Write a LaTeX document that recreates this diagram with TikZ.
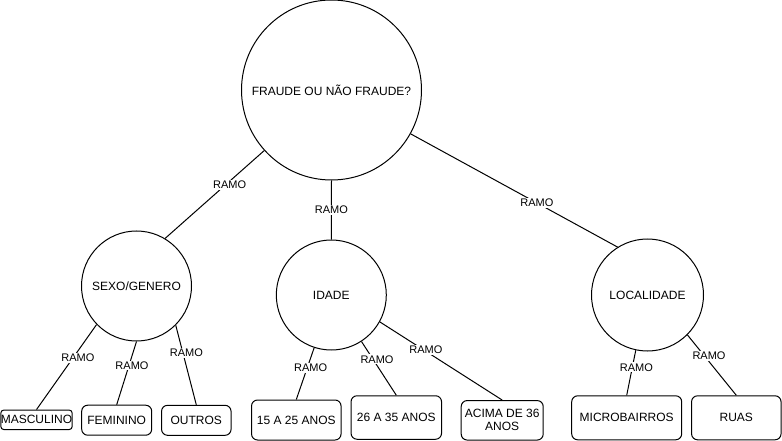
\documentclass[tikz,border=0pt]{standalone}
\usepackage{fontspec}
\setmainfont{Liberation Sans}
\begin{document}
\begin{tikzpicture}[x=1pt,y=-1pt,line width=1pt,
  circ/.style={draw, circle, inner sep=0pt, font=\fontsize{12}{14.4}\selectfont},
  box/.style={draw, rounded corners=6pt, inner sep=0pt, align=center, font=\fontsize{12}{13}\selectfont},
  lbl/.style={fill=white, inner sep=1pt, font=\fontsize{11}{13}\selectfont}]
\useasboundingbox (0,0) rectangle (782,441);
% circles
\node[circ, minimum size=180pt] (T) at (331.5,90) {FRAUDE OU NÃO FRAUDE?};
\node[circ, minimum size=110pt] (S) at (136.5,286) {SEXO/GENERO};
\node[circ, minimum size=110pt] (I) at (331.3,295) {IDADE};
\node[circ, minimum size=112pt] (L) at (647.5,295) {LOCALIDADE};
% boxes
\node[box, rounded corners=3pt, minimum width=70.4pt, minimum height=19.5pt] (masc) at (36.5,419.8) {MASCULINO};
\node[box, minimum width=70pt, minimum height=30pt] (fem) at (116.7,420.2) {FEMININO};
\node[box, minimum width=69.5pt, minimum height=30pt] (out) at (196.3,420.3) {OUTROS};
\node[box, minimum width=89.5pt, minimum height=40pt] (a15) at (296.3,420) {15 A 25 ANOS};
\node[box, minimum width=90.5pt, minimum height=43.5pt] (a26) at (396.3,417.5) {26 A 35 ANOS};
\node[box, minimum width=82pt, minimum height=39.5pt] (a36) at (502.2,420.3) {ACIMA DE 36\\ANOS};
\node[box, minimum width=110pt, minimum height=44pt] (mic) at (626.7,417.8) {MICROBAIRROS};
\node[box, minimum width=89.5pt, minimum height=44pt] (rua) at (736.3,417.8) {RUAS};
% connectors
\draw (T.222.1) -- node[lbl, pos=0.39, xshift=4pt] {RAMO} (S.59.5);
\draw (T.south) -- node[lbl, pos=0.5] {RAMO} (I.north);
\draw (T.331) -- node[lbl, pos=0.61] {RAMO} (L.122.9);
\draw (S.224.4) -- node[lbl, pos=0.395, xshift=5pt] {RAMO} (masc.north);
\draw (S.270) -- node[lbl, pos=0.38, xshift=3pt] {RAMO} (fem.north);
\draw (S.315) -- node[lbl, pos=0.35, xshift=3.5pt] {RAMO} (out.north);
\draw (I.252) -- node[lbl, pos=0.39, xshift=3.5pt] {RAMO} (a15.north);
\draw (I.303.6) -- node[lbl, pos=0.33, xshift=4pt] {RAMO} (a26.north);
\draw (I.331.8) -- node[lbl, pos=0.36, xshift=2pt] {RAMO} (a36.north);
\draw (L.258.2) -- node[lbl, pos=0.38, xshift=4pt] {RAMO} (mic.north);
\draw (L.315) -- node[lbl, pos=0.35, xshift=4.5pt] {RAMO} (rua.north);
\end{tikzpicture}
\end{document}
